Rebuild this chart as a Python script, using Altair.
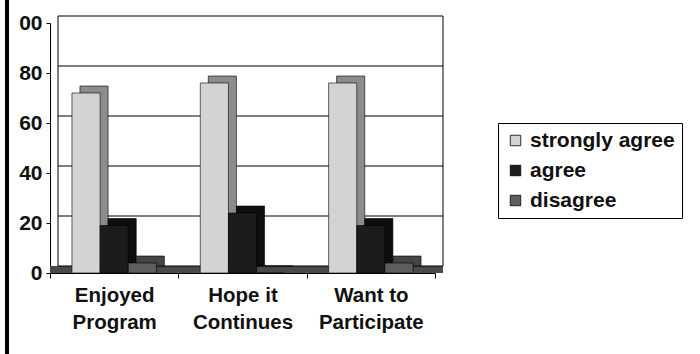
import altair as alt
import pandas as pd

categories = ["Enjoyed\nProgram", "Hope it\nContinues", "Want to\nParticipate"]
series = ["strongly agree", "agree", "disagree"]
strongly_agree = [72, 76, 76]
agree = [19, 24, 19]
disagree = [4, 0, 4]
y_ticks = [0, 20, 40, 60, 80, 100]

front_colors = ["#d3d3d3", "#1c1c1c", "#5e5e5e"]
side_colors = ["#8c8c8c", "#0e0e0e", "#444444"]

rows = []
for i, c in enumerate(categories):
    for s, vals in zip(series, [strongly_agree, agree, disagree]):
        rows.append({"category": c, "series": s, "value": vals[i]})
df = pd.DataFrame(rows)
ticks_df = pd.DataFrame({"value": y_ticks})

W, H = 385, 250
DX, DY = 8, -7
FONT = "Liberation Sans"

yscale = alt.Scale(domain=[0, 100])
xs = alt.X("category:N", sort=categories,
           scale=alt.Scale(paddingInner=0, paddingOuter=0, range=[0, W]),
           axis=alt.Axis(title=None, labelExpr="split(datum.label, '\\n')",
                         labelFont=FONT, labelFontSize=20.5, labelFontWeight="bold",
                         labelColor="#111", labelAngle=0, labelPadding=7,
                         labelLineHeight=27, tickBand="extent", tickSize=5,
                         tickColor="#000", domainColor="#000", grid=False))
xs_shadow = alt.X("category:N", sort=categories,
                  scale=alt.Scale(paddingInner=0, paddingOuter=0, range=[DX, W + DX]),
                  axis=None)
xo = alt.XOffset("series:N", sort=series,
                 scale=alt.Scale(paddingInner=0, paddingOuter=0.78))
ys = alt.Y("value:Q", scale=yscale,
           axis=alt.Axis(title=None, values=y_ticks, grid=False,
                         labelExpr="datum.value == 100 ? '00' : datum.label",
                         labelFont=FONT, labelFontSize=21, labelFontWeight="bold",
                         labelColor="#111", tickSize=4, labelPadding=4,
                         tickColor="#000", domainColor="#000"))

grid = alt.Chart(ticks_df).mark_rule(color="#000", strokeWidth=1, yOffset=DY).encode(
    y=alt.Y("value:Q", scale=yscale),
    x=alt.value(DX), x2=alt.value(W + DX))

left_edge = alt.Chart(ticks_df).transform_aggregate(
    lo="min(value)", hi="max(value)").mark_rule(
    color="#000", strokeWidth=1, yOffset=DY, y2Offset=DY).encode(
    x=alt.value(DX), y=alt.Y("lo:Q", scale=yscale), y2="hi:Q")
right_edge = alt.Chart(ticks_df).transform_aggregate(
    lo="min(value)", hi="max(value)").mark_rule(
    color="#000", strokeWidth=1, yOffset=DY, y2Offset=DY).encode(
    x=alt.value(W + DX), y=alt.Y("lo:Q", scale=yscale), y2="hi:Q")

floor = alt.Chart(ticks_df).transform_aggregate(lo="min(value)").mark_rect(
    color="#4a4a4a", yOffset=DY, x2Offset=DX).encode(
    x=alt.value(0), x2=alt.value(W),
    y=alt.Y("lo:Q", scale=yscale), y2=alt.value(H))

shadow = alt.Chart(df).mark_bar(yOffset=DY, y2Offset=DY,
                                stroke="#000", strokeWidth=0.6).encode(
    x=xs_shadow, xOffset=xo, y=ys, y2=alt.datum(0),
    fill=alt.Fill("series:N", sort=series,
                  scale=alt.Scale(domain=series, range=side_colors), legend=None))

front = alt.Chart(df).mark_bar(stroke="#000", strokeWidth=0.6).encode(
    x=xs, xOffset=xo, y=ys,
    fill=alt.Fill("series:N", sort=series,
                  scale=alt.Scale(domain=series, range=front_colors),
                  legend=alt.Legend(title=None, orient="none", legendX=448, legendY=100,
                                    symbolType="square", symbolSize=110,
                                    symbolStrokeColor="#000", symbolStrokeWidth=0.8,
                                    labelFont=FONT, labelFontSize=21,
                                    labelFontWeight="bold", labelColor="#111",
                                    labelLimit=300, rowPadding=8, padding=7,
                                    strokeColor="#000", fillColor="#fff")))

bars = alt.layer(shadow, front).resolve_scale(x="independent", xOffset="independent",
                                               fill="independent")

border = alt.Chart(ticks_df).mark_rule(color="#000", strokeWidth=3).encode(
    x=alt.value(-43), y=alt.value(-23), y2=alt.value(331))

chart = alt.layer(floor, grid, left_edge, right_edge, bars, border).properties(
    width=W, height=H,
    autosize=alt.AutoSizeParams(type="none"),
    padding={"left": 50, "top": 23, "right": 265, "bottom": 81},
    background="#ffffff"
).configure_view(stroke=None)

chart.save("out.html", embed_options={"renderer": "svg", "actions": False})
